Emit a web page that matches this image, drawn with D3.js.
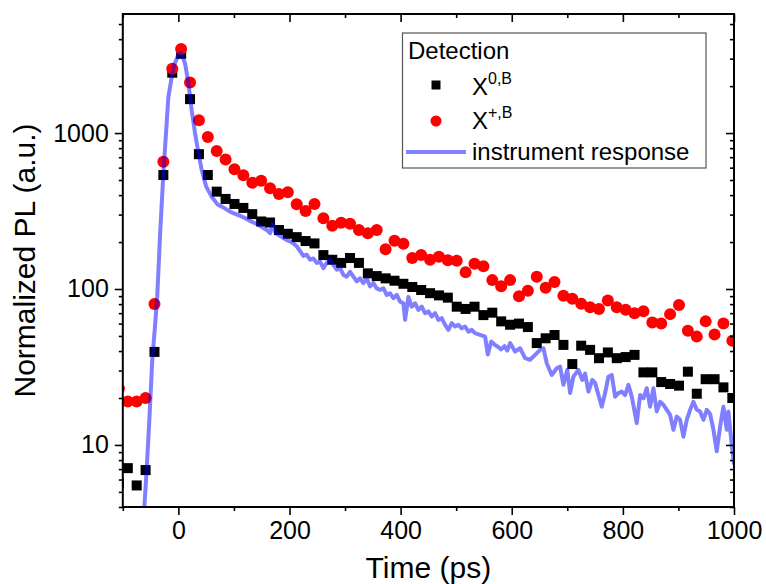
<!DOCTYPE html>
<html>
<head>
<meta charset="utf-8">
<script src="https://cdn.jsdelivr.net/npm/d3@7"></script>
<style>
  body { margin: 0; background: #fff; }
  svg { display: block; font-family: "Liberation Sans", Arial, sans-serif; }
</style>
</head>
<body>
<svg width="766" height="584"></svg>
<script>
// time grid of the two detection channels (ps)
var times = [-107, -91, -75, -59, -43, -27, -11, 5, 21, 37, 53, 69, 85, 101, 117, 133,
  149, 165, 181, 197, 213, 229, 245, 261, 277, 293, 309, 325, 341, 357, 373, 389,
  405, 421, 437, 453, 469, 485, 501, 517, 533, 549, 565, 581, 597, 613, 629, 645,
  661, 677, 693, 709, 725, 741, 757, 773, 789, 805, 821, 837, 853, 869, 885, 901,
  917, 933, 949, 965, 981, 997];

// X^{0,B} (black squares)
var neutral = [5.7, 7.1, 5.5, 6.9, 39.5, 538, 2438, 3221, 1650, 732, 538, 421, 378, 351, 331, 302,
  271, 267, 239, 226, 215, 203, 196, 165, 154, 147, 158, 147, 126, 121, 117, 113,
  108, 103, 98.5, 94, 91, 88, 77, 74.5, 77, 68, 70.5, 62, 59, 60, 57, 45,
  48.3, 50.7, 43.8, 33, 43.3, 40.7, 36, 39.2, 36, 36.6, 37.8, 29.2, 29.2, 25.3, 24.6, 24,
  29.5, 21.3, 26.4, 26.4, 23.4, 20];

// X^{+,B} (red circles)
var positive = [23, 19, 19, 20, 80, 655, 2580, 3460, 2110, 1210, 945, 768, 677, 586, 537, 480,
  494, 442, 406, 417, 349, 316, 351, 284, 254, 266, 262, 239, 228, 239, 180, 204,
  195, 158, 165, 154, 161, 153, 152, 128, 145, 140, 114, 104, 114, 90, 97.5, 120,
  102, 111, 90.5, 86.5, 80.5, 76.5, 74.5, 84.5, 76.5, 73.5, 70, 72, 61, 60, 69, 79,
  54, 49.5, 62, 51, 60, 46.5];

// instrument response (blue line)
var irfTime = [-62, -57, -52, -47, -42, -38, -33, -27, -18, -9, 0, 5, 12, 18, 24, 30, 36, 42, 50, 60,
  70, 80, 90, 100, 110, 120, 130, 140, 150, 160, 165, 170, 175, 182, 189, 195, 201, 207, 213, 219,
  225, 231, 237, 243, 249, 255, 261, 267, 273, 279, 285, 291, 297, 303, 309, 315, 321, 327, 333, 339,
  345, 351, 357, 363, 369, 375, 381, 387, 393, 399, 405, 408, 414, 420, 426, 432, 438, 444, 450, 456,
  462, 468, 474, 480, 486, 492, 498, 504, 510, 516, 522, 528, 534, 543, 552, 557, 563, 569, 575, 581,
  587, 592, 597, 606, 615, 624, 633, 642, 651, 657, 663, 672, 681, 687, 693, 700, 705, 711, 720, 727,
  732, 738, 745, 750, 756, 762, 768, 774, 780, 786, 792, 798, 804, 810, 816, 825, 831, 837, 843, 849,
  855, 861, 867, 873, 879, 885, 891, 897, 903, 909, 915, 921, 927, 933, 939, 945, 951, 957, 963, 969,
  975, 981, 987, 990, 995, 1000];
var irfValue = [3.6, 7, 15, 35, 58, 90, 220, 550, 1700, 2650, 3180, 3250, 2800, 2100, 1400, 1000, 750, 580, 455, 390,
  350, 335, 318, 305, 296, 285, 272, 262, 250, 238, 228, 262, 228, 220, 212, 206, 202, 196, 188, 175,
  163, 166, 154, 157, 147, 150, 136, 147, 154, 143, 133, 136, 123, 120, 129, 120, 112, 117, 109, 117,
  104, 109, 101, 98.8, 101, 91.6, 93.9, 87.3, 91.6, 83, 81, 63.4, 89, 77, 81, 73.5, 77, 70, 71.8, 66.6,
  70, 63.4, 65, 58.9, 54.7, 60.4, 57.5, 58.9, 56, 57.5, 53.3, 54.7, 52.1, 50.8, 49.5, 38, 46, 44, 42.6, 41,
  43, 40.3, 45, 39.7, 41.7, 36, 35.2, 37.8, 40.7, 41.7, 33.4, 28.1, 31, 31.8, 24.3, 30.3, 21.5, 27.4, 30.3, 26.1,
  28.7, 22, 26.1, 25, 20.9, 17.6, 21.5, 27.4, 28.1, 20.4, 21.5, 22, 20.9, 24.3, 20.4, 13.8, 20.9, 19.9, 23.1, 17.6,
  23.1, 16.4, 18.9, 18.1, 16.8, 15.6, 12.5, 15.2, 14.5, 11.3, 14.5, 16.8, 18.9, 16.8, 16.4, 14.5, 16.8, 15.8, 12.5, 9.1,
  13.1, 17.6, 12.5, 16.4, 10.8, 7.5];

var xMajor = [0, 200, 400, 600, 800, 1000];
var xMinor = [-100, 100, 300, 500, 700, 900];
var yMajor = [10, 100, 1000];
var yMinor = [4, 5, 6, 7, 8, 9, 20, 30, 40, 50, 60, 70, 80, 90,
  200, 300, 400, 500, 600, 700, 800, 900, 2000, 3000, 4000, 5000];

var svg = d3.select('svg');
var pLeft = 122.8, pRight = 734, pTop = 14, pBottom = 507;

var x = d3.scaleLinear().domain([-100, 1000]).range([pLeft, pRight]);
var y = d3.scaleLog().domain([4, 5800]).range([pBottom, pTop]);

svg.append('defs').append('clipPath').attr('id', 'plot')
  .append('rect')
  .attr('x', pLeft).attr('y', pTop)
  .attr('width', pRight - pLeft).attr('height', pBottom - pTop);

var plot = svg.append('g').attr('clip-path', 'url(#plot)');

// black squares
plot.selectAll('rect.neutral')
  .data(times)
  .enter()
  .append('rect')
  .attr('class', 'neutral')
  .attr('x', function(d) { return x(d) - 5; })
  .attr('y', function(d, i) { return y(neutral[i]) - 5; })
  .attr('width', 10)
  .attr('height', 10)
  .attr('fill', '#000');

// red circles
plot.selectAll('circle.positive')
  .data(times)
  .enter()
  .append('circle')
  .attr('class', 'positive')
  .attr('cx', function(d) { return x(d); })
  .attr('cy', function(d, i) { return y(positive[i]); })
  .attr('r', 6)
  .attr('fill', '#ff0000');

// instrument response on top, half transparent
var line = d3.line()
  .x(function(d) { return x(d); })
  .y(function(d, i) { return y(irfValue[i]); });

plot.append('path')
  .datum(irfTime)
  .attr('d', line)
  .attr('fill', 'none')
  .attr('stroke', '#0000ff')
  .attr('stroke-opacity', 0.5)
  .attr('stroke-width', 4)
  .attr('stroke-linejoin', 'round');

// axes (major + minor, mirrored on top and right)
function styleAxis(g) {
  g.selectAll('path').remove();
  g.selectAll('line').attr('stroke', '#000').attr('stroke-width', 1.6);
  g.selectAll('text').attr('fill', '#000').attr('font-size', 25);
}

svg.append('g')
  .attr('transform', 'translate(0,' + pBottom + ')')
  .call(d3.axisBottom(x).tickValues(xMajor).tickSize(8).tickPadding(6).tickFormat(d3.format('d')))
  .call(styleAxis);
svg.append('g')
  .attr('transform', 'translate(0,' + pBottom + ')')
  .call(d3.axisBottom(x).tickValues(xMinor).tickSize(4).tickFormat(''))
  .call(styleAxis);
svg.append('g')
  .attr('transform', 'translate(0,' + pTop + ')')
  .call(d3.axisBottom(x).tickValues(xMajor).tickSize(8).tickFormat(''))
  .call(styleAxis);
svg.append('g')
  .attr('transform', 'translate(0,' + pTop + ')')
  .call(d3.axisBottom(x).tickValues(xMinor).tickSize(4).tickFormat(''))
  .call(styleAxis);

svg.append('g')
  .attr('transform', 'translate(' + pLeft + ',0)')
  .call(d3.axisLeft(y).tickValues(yMajor).tickSize(8).tickPadding(6).tickFormat(d3.format('d')))
  .call(styleAxis);
svg.append('g')
  .attr('transform', 'translate(' + pLeft + ',0)')
  .call(d3.axisLeft(y).tickValues(yMinor).tickSize(4).tickFormat(''))
  .call(styleAxis);
svg.append('g')
  .attr('transform', 'translate(' + pRight + ',0)')
  .call(d3.axisLeft(y).tickValues(yMajor).tickSize(8).tickFormat(''))
  .call(styleAxis);
svg.append('g')
  .attr('transform', 'translate(' + pRight + ',0)')
  .call(d3.axisLeft(y).tickValues(yMinor).tickSize(4).tickFormat(''))
  .call(styleAxis);

// frame
svg.append('rect')
  .attr('x', pLeft).attr('y', pTop)
  .attr('width', pRight - pLeft).attr('height', pBottom - pTop)
  .attr('fill', 'none')
  .attr('stroke', '#000')
  .attr('stroke-width', 2);

// axis titles
svg.append('text')
  .attr('x', (pLeft + pRight) / 2)
  .attr('y', 578)
  .attr('text-anchor', 'middle')
  .attr('font-size', 30)
  .text('Time (ps)');

svg.append('text')
  .attr('transform', 'translate(35,' + (pTop + pBottom) / 2 + ') rotate(-90)')
  .attr('text-anchor', 'middle')
  .attr('font-size', 30)
  .text('Normalized PL (a.u.)');

// legend
var legend = svg.append('g');
legend.append('rect')
  .attr('x', 402.5).attr('y', 33)
  .attr('width', 303.5).attr('height', 135)
  .attr('fill', '#fff')
  .attr('stroke', '#555')
  .attr('stroke-width', 1.2);

legend.append('text')
  .attr('x', 408).attr('y', 59)
  .attr('font-size', 24)
  .text('Detection');

legend.append('rect')
  .attr('x', 431.5).attr('y', 80.5)
  .attr('width', 9).attr('height', 9)
  .attr('fill', '#000');
var t1 = legend.append('text').attr('x', 472).attr('y', 95).attr('font-size', 24);
t1.append('tspan').text('X');
t1.append('tspan').attr('dy', -11).attr('font-size', 16).text('0,B');

legend.append('circle')
  .attr('cx', 436).attr('cy', 121)
  .attr('r', 5.5)
  .attr('fill', '#ff0000');
var t2 = legend.append('text').attr('x', 472).attr('y', 129).attr('font-size', 24);
t2.append('tspan').text('X');
t2.append('tspan').attr('dy', -11).attr('font-size', 16).text('+,B');

legend.append('line')
  .attr('x1', 406).attr('x2', 466)
  .attr('y1', 152).attr('y2', 152)
  .attr('stroke', '#0000ff')
  .attr('stroke-opacity', 0.5)
  .attr('stroke-width', 4);
legend.append('text')
  .attr('x', 472).attr('y', 160)
  .attr('font-size', 24)
  .text('instrument response');
</script>
</body>
</html>
